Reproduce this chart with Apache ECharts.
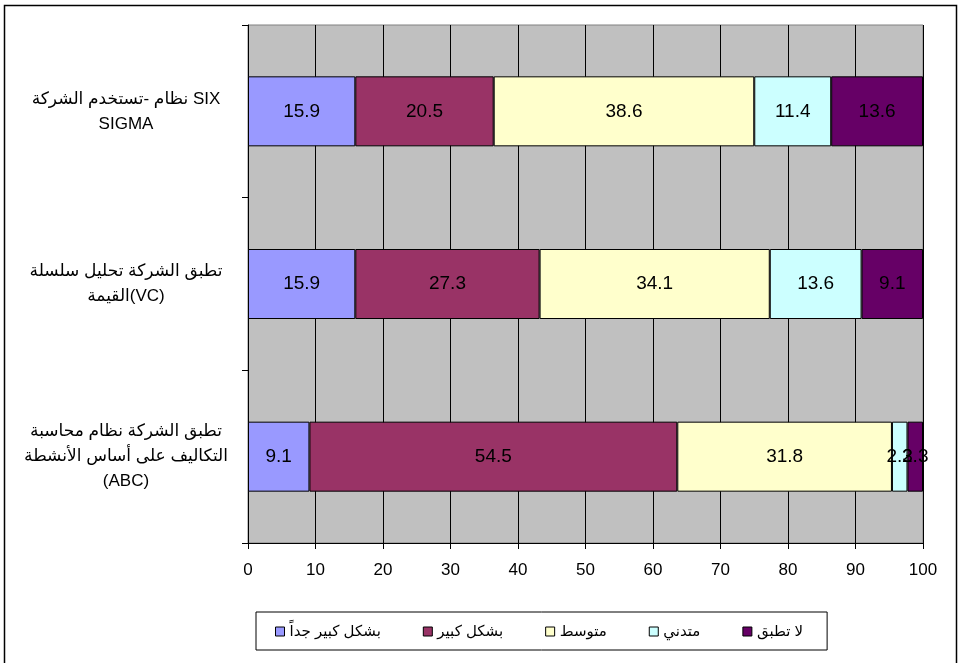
<!DOCTYPE html>
<html>
<head>
<meta charset="utf-8">
<script src="https://cdn.jsdelivr.net/npm/echarts@6/dist/echarts.min.js"></script>
<style>
  html, body { margin: 0; padding: 0; background: #fff; }
  #chart { width: 962px; height: 663px; }
</style>
</head>
<body>
<div id="chart"></div>
<script>
// categories, bottom to top (ECharts category y axis starts at the bottom)
const categories = [
  "تطبق الشركة نظام محاسبة\nالتكاليف على أساس الأنشطة\n(ABC)",
  "تطبق الشركة تحليل سلسلة\nالقيمة(VC)",
  "نظام -تستخدم الشركة SIX\nSIGMA"
];

const seriesNames = ["بشكل كبير جداً", "بشكل كبير", "متوسط", "متدني", "لا تطبق"];

const veryLarge = [9.1, 15.9, 15.9];
const large = [54.5, 27.3, 20.5];
const medium = [31.8, 34.1, 38.6];
const low = [2.3, 13.6, 11.4];
const notApplied = [2.3, 9.1, 13.6];

const xTicks = [0, 10, 20, 30, 40, 50, 60, 70, 80, 90, 100];

const colors = ["#9999FF", "#993366", "#FFFFCC", "#CCFFFF", "#660066"];
const font = "Liberation Sans, Arial, DejaVu Sans, sans-serif";

const chart = echarts.init(document.getElementById("chart"));

const values = [veryLarge, large, medium, low, notApplied];

const option = {
  animation: false,
  backgroundColor: "#fff",
  textStyle: { fontFamily: font },
  graphic: [
    {
      type: "rect",
      shape: { x: 4.5, y: 5.5, width: 952, height: 680 },
      style: { fill: "none", stroke: "#000", lineWidth: 1.5 },
      silent: true
    }
  ],
  grid: {
    left: 248,
    right: 39,
    top: 25,
    bottom: 120,
    show: true,
    backgroundColor: "#C0C0C0",
    borderColor: "#808080",
    borderWidth: 1
  },
  legend: {
    left: 256,
    top: 612,
    orient: "horizontal",
    icon: "rect",
    itemWidth: 9,
    itemHeight: 9,
    itemGap: 42,
    padding: [12, 24, 11, 19],
    borderColor: "#000",
    borderWidth: 1,
    textStyle: { fontSize: 15, color: "#000", fontFamily: font },
    itemStyle: { borderColor: "#000", borderWidth: 1 },
    data: seriesNames
  },
  xAxis: {
    type: "value",
    min: xTicks[0],
    max: xTicks[xTicks.length - 1],
    interval: 10,
    axisLine: { show: true, lineStyle: { color: "#000", width: 1 } },
    axisTick: { show: true, length: 6, lineStyle: { color: "#000" } },
    axisLabel: { fontSize: 17, color: "#000", margin: 19, fontFamily: font },
    splitLine: { show: true, lineStyle: { color: "#000", width: 1 } }
  },
  yAxis: {
    type: "category",
    data: categories,
    axisLine: { show: true, lineStyle: { color: "#000", width: 1 } },
    axisTick: { show: true, length: 6, lineStyle: { color: "#000" } },
    axisLabel: {
      fontSize: 17,
      color: "#000",
      align: "center",
      margin: 122,
      lineHeight: 25,
      fontFamily: font
    },
    splitLine: { show: false }
  },
  series: seriesNames.map((name, i) => ({
    name: name,
    type: "bar",
    stack: "total",
    barWidth: 70,
    data: values[i],
    itemStyle: { color: colors[i], borderColor: "#000", borderWidth: 1 },
    label: {
      show: true,
      position: "inside",
      color: "#000",
      fontSize: 19,
      fontFamily: font
    }
  }))
};

chart.setOption(option);
</script>
</body>
</html>
